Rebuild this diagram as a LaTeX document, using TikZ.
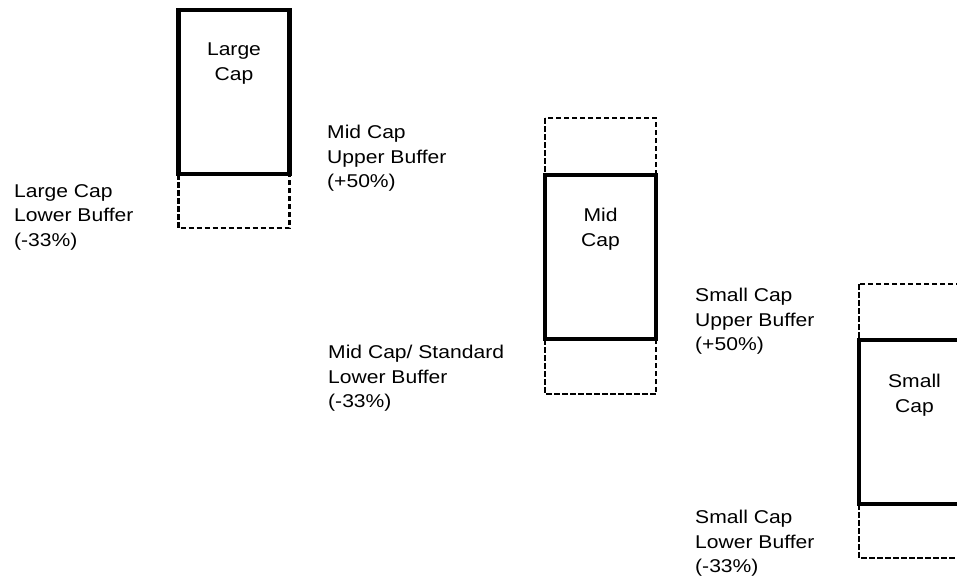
\documentclass[tikz,border=0pt]{standalone}
\usepackage{fontspec}
\newfontfamily\labfont[FakeStretch=1.14]{Liberation Sans}
\begin{document}
\begin{tikzpicture}[x=1pt,y=-1pt,
  capbox/.style={draw=black,line width=4.5pt},
  bufbox/.style={draw=black,line width=2.4pt,dash pattern=on 5.5pt off 2.5pt},
  lab/.style={inner sep=0pt,align=left,anchor=north west,
    font=\labfont\fontsize{18.5}{24.5}\selectfont},
  boxlab/.style={inner sep=0pt,align=center,anchor=north,
    font=\labfont\fontsize{18.5}{24.5}\selectfont}]
\useasboundingbox (0,0) rectangle (957,582);
\clip (0,0) rectangle (957,582);
% Large cap
\draw[bufbox] (178.5,174) rectangle (289.5,228);
\draw[capbox] (178.5,10) rectangle (289.5,174);
\coordinate (lcTop) at (234,43);
\node[boxlab] (lc) at (lcTop) {Large\\Cap};
% Mid cap
\draw[bufbox] (545,118) rectangle (656,175);
\draw[bufbox] (545,339) rectangle (656,394);
\draw[capbox] (545,175) rectangle (656,339);
\coordinate (mcTop) at (600.5,208);
\node[boxlab] (mc) at (mcTop) {Mid\\Cap};
% Small cap
\draw[bufbox] (859,284) rectangle (970,340);
\draw[bufbox] (859,504) rectangle (970,558);
\draw[capbox] (859,340) rectangle (970,504);
\coordinate (scTop) at (914.5,374);
\node[boxlab] (sc) at (scTop) {Small\\Cap};
% Labels
\node[lab] (lcl) at (14,184) {Large Cap\\Lower Buffer\\(-33\%)};
\node[lab] (mcu) at (327,125) {Mid Cap\\Upper Buffer\\(+50\%)};
\node[lab] (mcl) at (328,345) {Mid Cap/ Standard\\Lower Buffer\\(-33\%)};
\node[lab] (scu) at (695,288) {Small Cap\\Upper Buffer\\(+50\%)};
\node[lab] (scl) at (695,510) {Small Cap\\Lower Buffer\\(-33\%)};
\end{tikzpicture}
\end{document}
